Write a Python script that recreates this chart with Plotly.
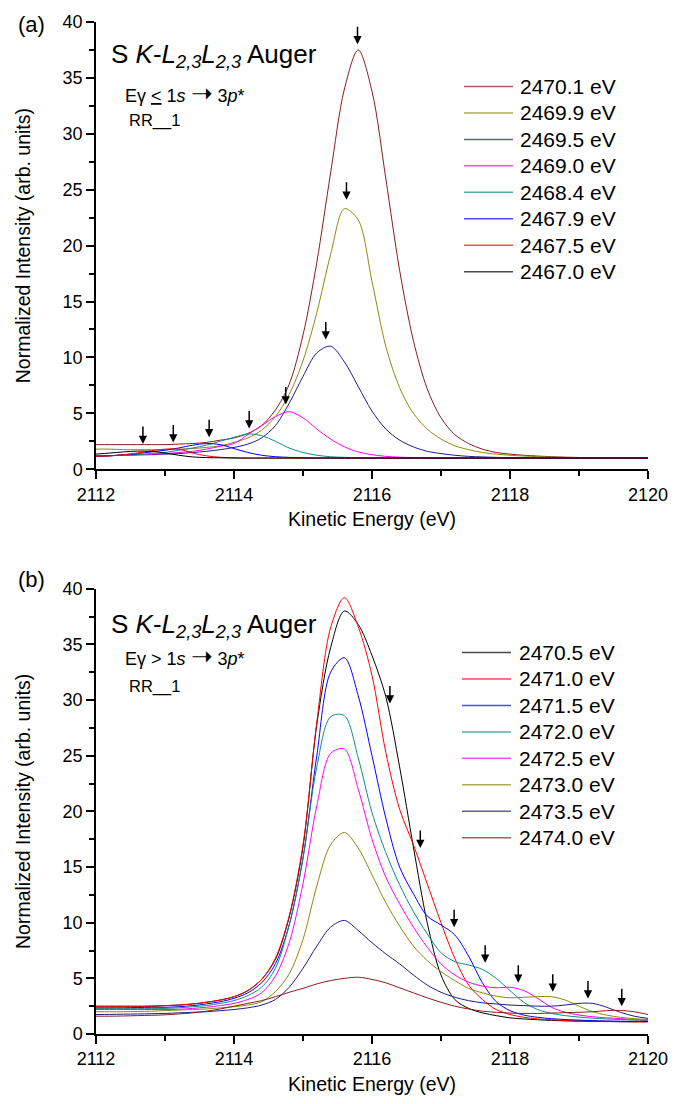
import plotly.graph_objects as go

# ---------------- data ----------------
ke = [2112.0, 2112.2, 2112.4, 2112.6, 2112.8, 2113.0, 2113.2, 2113.4, 2113.6, 2113.8,
      2114.0, 2114.2, 2114.4, 2114.6, 2114.8, 2115.0, 2115.2, 2115.4, 2115.6, 2115.8,
      2116.0, 2116.2, 2116.4, 2116.6, 2116.8, 2117.0, 2117.2, 2117.4, 2117.6, 2117.8,
      2118.0, 2118.2, 2118.4, 2118.6, 2118.8, 2119.0, 2119.2, 2119.4, 2119.6, 2119.8, 2120.0]

# panel (a): photon energies <= 1s -> 3p*
a_labels = ["2470.1 eV", "2469.9 eV", "2469.5 eV", "2469.0 eV",
            "2468.4 eV", "2467.9 eV", "2467.5 eV", "2467.0 eV"]
a_2470_1 = [2.2, 2.2, 2.2, 2.2, 2.2, 2.2, 2.25, 2.3, 2.4, 2.6,
            2.8, 3.2, 3.9, 5.3, 7.6, 12.0, 18.5, 26.5, 34.0, 37.5,
            33.8, 26.0, 17.8, 11.5, 7.2, 4.6, 3.1, 2.3, 1.8, 1.5,
            1.35, 1.25, 1.18, 1.12, 1.08, 1.05, 1.03, 1.02, 1.01, 1.0, 1.0]
a_2469_9 = [1.8, 1.8, 1.75, 1.75, 1.75, 1.75, 1.8, 1.85, 1.95, 2.1,
            2.4, 2.8, 3.5, 4.7, 6.7, 9.7, 14.0, 19.2, 23.3, 22.3,
            16.8, 11.0, 7.3, 5.0, 3.6, 2.7, 2.1, 1.75, 1.5, 1.35,
            1.25, 1.18, 1.12, 1.08, 1.05, 1.03, 1.02, 1.01, 1.0, 1.0, 1.0]
a_2469_5 = [1.2, 1.22, 1.25, 1.28, 1.3, 1.35, 1.4, 1.5, 1.6, 1.75,
            1.95, 2.25, 2.8, 3.9, 5.9, 8.3, 10.4, 11.0, 9.6, 7.4,
            5.2, 3.6, 2.6, 2.0, 1.6, 1.4, 1.25, 1.15, 1.1, 1.06,
            1.04, 1.03, 1.02, 1.01, 1.0, 1.0, 1.0, 1.0, 1.0, 1.0, 1.0]
a_2469_0 = [1.2, 1.22, 1.25, 1.3, 1.35, 1.4, 1.5, 1.6, 1.8, 2.05,
            2.3, 3.1, 3.9, 4.7, 5.15, 4.6, 3.6, 2.7, 2.0, 1.55,
            1.3, 1.15, 1.08, 1.04, 1.02, 1.0, 1.0, 1.0, 1.0, 1.0,
            1.0, 1.0, 1.0, 1.0, 1.0, 1.0, 1.0, 1.0, 1.0, 1.0, 1.0]
a_2468_4 = [1.15, 1.2, 1.25, 1.3, 1.4, 1.5, 1.7, 1.9, 2.15, 2.5,
            2.85, 3.15, 3.0, 2.5, 1.9, 1.5, 1.25, 1.12, 1.06, 1.03,
            1.0, 1.0, 1.0, 1.0, 1.0, 1.0, 1.0, 1.0, 1.0, 1.0,
            1.0, 1.0, 1.0, 1.0, 1.0, 1.0, 1.0, 1.0, 1.0, 1.0, 1.0]
a_2467_9 = [1.15, 1.2, 1.3, 1.4, 1.55, 1.7, 1.9, 2.15, 2.3, 2.2,
            1.85, 1.5, 1.25, 1.12, 1.06, 1.03, 1.0, 1.0, 1.0, 1.0,
            1.0, 1.0, 1.0, 1.0, 1.0, 1.0, 1.0, 1.0, 1.0, 1.0,
            1.0, 1.0, 1.0, 1.0, 1.0, 1.0, 1.0, 1.0, 1.0, 1.0, 1.0]
a_2467_5 = [1.15, 1.2, 1.3, 1.45, 1.65, 1.8, 1.8, 1.45, 1.2, 1.07,
            1.03, 1.0, 1.0, 1.0, 1.0, 1.0, 1.0, 1.0, 1.0, 1.0,
            1.0, 1.0, 1.0, 1.0, 1.0, 1.0, 1.0, 1.0, 1.0, 1.0,
            1.0, 1.0, 1.0, 1.0, 1.0, 1.0, 1.0, 1.0, 1.0, 1.0, 1.0]
a_2467_0 = [1.35, 1.45, 1.55, 1.62, 1.6, 1.45, 1.25, 1.1, 1.04, 1.02,
            1.0, 1.0, 1.0, 1.0, 1.0, 1.0, 1.0, 1.0, 1.0, 1.0,
            1.0, 1.0, 1.0, 1.0, 1.0, 1.0, 1.0, 1.0, 1.0, 1.0,
            1.0, 1.0, 1.0, 1.0, 1.0, 1.0, 1.0, 1.0, 1.0, 1.0, 1.0]
a_series = [a_2470_1, a_2469_9, a_2469_5, a_2469_0, a_2468_4, a_2467_9, a_2467_5, a_2467_0]
a_arrow_x = [2112.68, 2113.12, 2113.64, 2114.22, 2114.75, 2115.33, 2115.63, 2115.79]
a_arrow_y = [2.25, 2.4, 2.85, 3.65, 5.8, 11.6, 24.1, 38.0]

# panel (b): photon energies > 1s -> 3p*
b_labels = ["2470.5 eV", "2471.0 eV", "2471.5 eV", "2472.0 eV",
            "2472.5 eV", "2473.0 eV", "2473.5 eV", "2474.0 eV"]
b_2470_5 = [2.5, 2.5, 2.5, 2.5, 2.5, 2.55, 2.6, 2.7, 2.85, 3.05,
            3.35, 3.9, 4.9, 6.7, 10.5, 16.8, 27.8, 34.7, 38.0, 36.8,
            34.0, 30.3, 24.0, 16.8, 10.0, 5.3, 3.1, 2.3, 1.9, 1.65,
            1.45, 1.35, 1.28, 1.22, 1.18, 1.15, 1.13, 1.12, 1.1, 1.1, 1.1]
b_2471_0 = [2.45, 2.45, 2.45, 2.45, 2.5, 2.55, 2.6, 2.7, 2.85, 3.05,
            3.35, 3.9, 4.9, 6.8, 10.6, 17.0, 28.0, 36.5, 39.2, 36.6,
            32.2, 25.3, 20.2, 17.0, 13.5, 10.0, 6.8, 4.4, 3.1, 2.2,
            1.75, 1.5, 1.35, 1.28, 1.22, 1.18, 1.15, 1.13, 1.12, 1.1, 1.1]
b_2471_5 = [2.35, 2.35, 2.35, 2.38, 2.4, 2.4, 2.45, 2.55, 2.7, 2.9,
            3.2, 3.7, 4.6, 6.3, 9.8, 15.8, 25.0, 32.5, 33.8, 30.4,
            25.0, 19.4, 15.0, 12.6, 10.6, 9.8, 8.9, 7.0, 4.6, 2.9,
            2.1, 1.7, 1.5, 1.38, 1.3, 1.25, 1.2, 1.17, 1.15, 1.13, 1.12]
b_2472_0 = [2.3, 2.3, 2.3, 2.3, 2.3, 2.3, 2.35, 2.45, 2.55, 2.75,
            3.0, 3.45, 4.2, 5.9, 9.8, 15.8, 24.0, 28.5, 28.6, 24.8,
            19.9, 16.3, 13.4, 11.0, 9.0, 7.3, 6.5, 6.2, 5.8, 5.0,
            3.9, 2.85, 2.2, 1.85, 1.65, 1.52, 1.42, 1.35, 1.3, 1.25, 1.2]
b_2472_5 = [2.2, 2.2, 2.2, 2.2, 2.2, 2.2, 2.22, 2.3, 2.4, 2.55,
            2.75, 3.1, 3.7, 5.2, 8.2, 13.5, 20.5, 25.2, 25.6, 22.0,
            17.5, 14.1, 11.7, 9.6, 7.8, 6.3, 5.3, 4.65, 4.3, 4.15,
            4.2, 3.9, 3.2, 2.4, 1.95, 1.7, 1.55, 1.45, 1.38, 1.3, 1.25]
b_2473_0 = [2.0, 2.0, 2.0, 2.02, 2.05, 2.1, 2.15, 2.2, 2.25, 2.35,
            2.45, 2.6, 2.9, 3.8, 5.4, 8.5, 13.3, 17.0, 18.1, 16.7,
            14.3, 11.8, 9.7, 7.9, 6.6, 5.6, 4.8, 4.1, 3.7, 3.4,
            3.25, 3.3, 3.35, 3.35, 3.05, 2.5, 2.0, 1.7, 1.5, 1.38, 1.3]
b_2473_5 = [1.75, 1.76, 1.78, 1.8, 1.82, 1.85, 1.9, 1.95, 2.0, 2.1,
            2.2, 2.35, 2.6, 3.1, 4.2, 5.9, 7.9, 9.6, 10.2, 9.3,
            8.2, 7.2, 6.3, 5.3, 4.4, 3.75, 3.3, 3.0, 2.8, 2.7,
            2.6, 2.55, 2.5, 2.5, 2.6, 2.75, 2.75, 2.4, 1.95, 1.6, 1.4]
b_2474_0 = [1.6, 1.6, 1.62, 1.65, 1.68, 1.72, 1.8, 1.9, 2.05, 2.25,
            2.5, 2.75, 3.0, 3.35, 3.75, 4.1, 4.5, 4.8, 5.0, 5.1,
            4.9, 4.6, 4.15, 3.7, 3.25, 2.85, 2.5, 2.25, 2.05, 1.95,
            1.88, 1.85, 1.85, 1.88, 1.92, 1.95, 2.0, 2.1, 2.12, 2.0, 1.75]
b_series = [b_2470_5, b_2471_0, b_2471_5, b_2472_0, b_2472_5, b_2473_0, b_2473_5, b_2474_0]
b_arrow_x = [2116.26, 2116.70, 2117.19, 2117.64, 2118.12, 2118.62, 2119.13, 2119.62]
b_arrow_y = [29.7, 16.7, 9.6, 6.4, 4.6, 3.8, 3.2, 2.5]

x_ticks = [2112, 2114, 2116, 2118, 2120]
y_ticks = [0, 5, 10, 15, 20, 25, 30, 35, 40]

# ---------------- styling ----------------
WINE, OLIVE, NAVY, MAGENTA = "#8a1c1c", "#8a8a10", "#1c1c8a", "#ff00ff"
TEAL, BLUE, RED, BLACK = "#108a8a", "#0000ff", "#ff0000", "#000000"
a_colors = [WINE, OLIVE, NAVY, MAGENTA, TEAL, BLUE, RED, BLACK]
b_colors = [BLACK, RED, BLUE, TEAL, MAGENTA, OLIVE, NAVY, WINE]

FONT = "Liberation Sans, Arial, Helvetica, sans-serif"
W, H = 686, 1104
ML, MR, MT, MB = 96, 38, 18, 70
PW, PH = W - ML - MR, H - MT - MB


def pxx(px):
    return (px - ML) / PW


def pxy(py):
    return (H - MB - py) / PH


fig = go.Figure()
for ys, name, col in zip(a_series, a_labels, a_colors):
    fig.add_trace(go.Scatter(x=ke, y=ys, name=name, mode="lines", xaxis="x", yaxis="y",
                             line=dict(color=col, width=1, shape="spline", smoothing=0.9),
                             showlegend=False))
for ys, name, col in zip(b_series, b_labels, b_colors):
    fig.add_trace(go.Scatter(x=ke, y=ys, name=name, mode="lines", xaxis="x2", yaxis="y2",
                             line=dict(color=col, width=1, shape="spline", smoothing=0.9),
                             showlegend=False))

axis_common = dict(showline=True, linecolor="black", linewidth=1.5, mirror=False,
                   ticks="outside", ticklen=8, tickwidth=1.5, tickcolor="black",
                   showgrid=False, zeroline=False,
                   tickfont=dict(family=FONT, size=18, color="black"))
xa = dict(axis_common, range=[2112, 2120], tickvals=x_ticks,
          minor=dict(dtick=1, tick0=2112, ticks="outside", ticklen=5, tickwidth=1.5, tickcolor="black"),
          title=dict(text="Kinetic Energy (eV)", font=dict(family=FONT, size=19.5, color="black"), standoff=9))
ya = dict(axis_common, range=[0, 40], tickvals=y_ticks,
          minor=dict(dtick=2.5, tick0=0, ticks="outside", ticklen=5, tickwidth=1.5, tickcolor="black"),
          title=dict(text="Normalized Intensity (arb. units)", font=dict(family=FONT, size=19.5, color="black"), standoff=27))

fig.update_layout(
    width=W, height=H,
    margin=dict(l=ML, r=MR, t=MT, b=MB),
    paper_bgcolor="white", plot_bgcolor="white",
    font=dict(family=FONT, color="black"),
    showlegend=False,
    xaxis=dict(xa, anchor="y", domain=[0, 1]),
    yaxis=dict(ya, anchor="x", domain=[pxy(467), 1.0]),
    xaxis2=dict(xa, anchor="y2", domain=[0, 1]),
    yaxis2=dict(ya, anchor="x2", domain=[0, pxy(587)]),
)

annotations = []
shapes = []


def text(px, py, s, size):
    annotations.append(dict(x=pxx(px), y=pxy(py), xref="paper", yref="paper", text=s,
                            showarrow=False, xanchor="left", yanchor="middle",
                            font=dict(family=FONT, size=size, color="black")))


title_txt = "S <i>K</i>-<i>L</i><sub><i>2,3</i></sub><i>L</i><sub><i>2,3</i></sub> Auger"
arrow_glyph = "<span style='font-size:26px'>➝</span>"
# panel (a) texts
text(16, 21, "(a)", 22)
text(109, 52, title_txt, 26)
text(123, 89, "Eγ <u>&lt;</u> 1<i>s</i> " + arrow_glyph + " 3<i>p</i>*", 18)
text(127, 117, "RR__1", 16.5)
# panel (b) texts
text(16, 578, "(b)", 22)
text(109, 624, title_txt, 26)
text(123, 655, "Eγ &gt; 1<i>s</i> " + arrow_glyph + " 3<i>p</i>*", 18)
text(127, 685, "RR__1", 16.5)

# legends (drawn manually to match the compact row spacing)
row_gap = 26.57
for i, (lab, col) in enumerate(zip(a_labels, a_colors)):
    yy = 82.7 + i * row_gap
    shapes.append(dict(type="line", xref="paper", yref="paper", x0=pxx(464), x1=pxx(513),
                       y0=pxy(yy), y1=pxy(yy), line=dict(color=col, width=1.5), opacity=0.7))
    text(518, yy, lab, 21)
for i, (lab, col) in enumerate(zip(b_labels, b_colors)):
    yy = 651 + i * row_gap
    shapes.append(dict(type="line", xref="paper", yref="paper", x0=pxx(462), x1=pxx(511),
                       y0=pxy(yy), y1=pxy(yy), line=dict(color=col, width=1.5), opacity=0.7))
    text(517, yy, lab, 21)

# arrows marking peak positions
for xv, yv in zip(a_arrow_x, a_arrow_y):
    annotations.append(dict(x=xv, y=yv, xref="x", yref="y", text="", showarrow=True,
                            ax=0, ay=-19, arrowhead=2, arrowsize=1.1, arrowwidth=1.5,
                            arrowcolor="black", standoff=0))
for xv, yv in zip(b_arrow_x, b_arrow_y):
    annotations.append(dict(x=xv, y=yv, xref="x2", yref="y2", text="", showarrow=True,
                            ax=0, ay=-19, arrowhead=2, arrowsize=1.1, arrowwidth=1.5,
                            arrowcolor="black", standoff=0))

fig.update_layout(annotations=annotations, shapes=shapes)
fig.write_html("out.html")
